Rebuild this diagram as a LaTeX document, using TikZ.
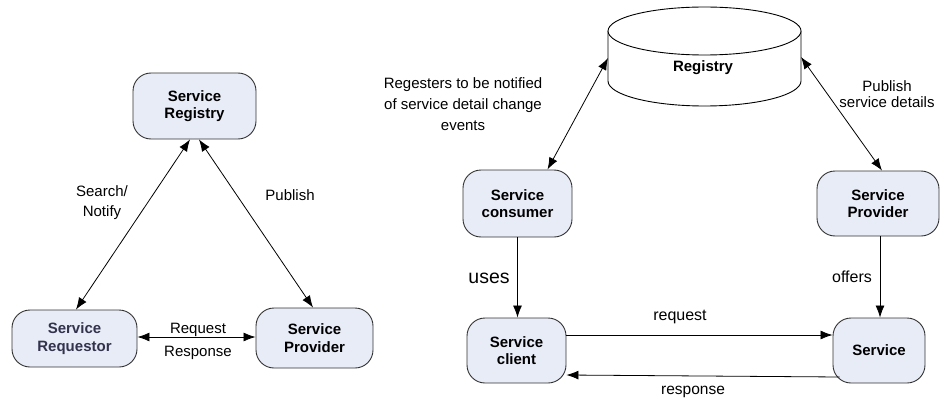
\documentclass[tikz,border=0pt]{standalone}
\usepackage{fontspec}
\setmainfont{Liberation Sans}
\usetikzlibrary{arrows.meta}
\definecolor{boxfill}{HTML}{E8ECF7}
\definecolor{boxline}{HTML}{333333}
\definecolor{reqtext}{HTML}{33334D}
\begin{document}
\begin{tikzpicture}[x=1pt,y=-1pt,
  svc/.style={draw=boxline,line width=0.9pt,fill=boxfill,rounded corners=18pt,
    align=center,font=\fontsize{15}{17.5}\selectfont\bfseries,inner sep=0pt},
  lbl/.style={align=center,font=\fontsize{15}{21}\selectfont,inner sep=0pt},
  conn/.style={line width=0.8pt,-{Latex[length=12pt,width=9pt]}},
  dconn/.style={line width=0.8pt,{Latex[length=12pt,width=9pt]}-{Latex[length=12pt,width=9pt]}}]
\useasboundingbox (0,0) rectangle (941,401);
% ---------- left diagram ----------
\node[svc,minimum width=123pt,minimum height=66pt] (sreg) at (194.5,106) {Service\\Registry};
\node[svc,minimum width=125pt,minimum height=57pt,text=reqtext] (sreq) at (74.5,338.5) {Service\\Requestor};
\node[svc,minimum width=117pt,minimum height=60pt] (sprov) at (314.5,338) {Service\\Provider};
\draw[dconn] ([xshift=1.5pt]sreq.north) -- ([xshift=-4.5pt]sreg.south);
\draw[dconn] ([xshift=4.5pt]sreg.south) -- ([xshift=-1.5pt]sprov.north);
\draw[dconn] ([yshift=1.5pt]sreq.east) -- ([yshift=1pt]sprov.west);
\node[lbl,font=\fontsize{15}{20}\selectfont] (lsearch) at (102,203) {Search/\\Notify};
\node[lbl] (lpub) at (290,195) {Publish};
\node[lbl] (lreq) at (198,330) {Request};
\node[lbl] (lresp) at (198,353) {Response};
% ---------- right diagram ----------
\coordinate (regc) at (704.5,31);
\draw[line width=0.9pt,fill=white] (608,31) -- (608,81) arc[start angle=180,end angle=360,x radius=96.5pt,y radius=25pt] -- (801,31);
\draw[line width=0.9pt,fill=white] (regc) ellipse[x radius=96.5pt,y radius=24pt];
\node[font=\fontsize{15}{17}\selectfont\bfseries,inner sep=0pt] (registry) at (703,68) {Registry};
\coordinate (regL) at (608,58);
\coordinate (regR) at (801,57);
\node[svc,minimum width=109pt,minimum height=67pt] (cons) at (517.5,203.5) {Service\\consumer};
\node[svc,minimum width=122pt,minimum height=65pt] (prov) at (878,203.5) {Service\\Provider};
\node[svc,minimum width=99pt,minimum height=65pt] (client) at (516.5,350.5) {Service\\client};
\node[svc,minimum width=92pt,minimum height=65pt] (serv) at (879,350.5) {Service};
\draw[dconn] ([xshift=30pt]cons.north) -- (regL);
\draw[dconn] (regR) -- ([xshift=4pt]prov.north);
\draw[conn] (cons.south) -- (cons.south |- client.north);
\draw[conn] ([xshift=2pt]prov.south) -- ([xshift=2pt]prov.south |- serv.north);
\draw[conn] ([yshift=15.5pt]client.east) -- ([yshift=15.5pt]client.east -| serv.west);
\draw[conn] ([xshift=7pt,yshift=-26.5pt]serv.west) -- ([yshift=-24.5pt]client.east);
\node[lbl] (lreg) at (463,104) {Regesters to be notified\\of service detail change\\events};
\node[lbl,font=\fontsize{15}{16.5}\selectfont] (lpub2) at (887,94) {Publish\\service details};
\node[lbl,font=\fontsize{19.5}{21}\selectfont] (luses) at (489,278) {uses};
\node[lbl,font=\fontsize{16}{18}\selectfont] (loffers) at (852,277) {offers};
\node[lbl,font=\fontsize{16}{18}\selectfont] (lrequest) at (680,317) {request};
\node[lbl,font=\fontsize{15.5}{18}\selectfont] (lresponse) at (693,392) {response};
\end{tikzpicture}
\end{document}
